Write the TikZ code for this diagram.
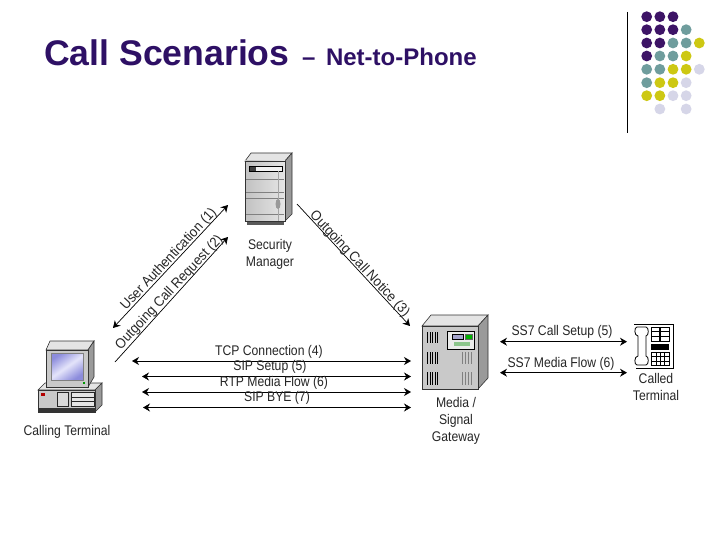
\documentclass[tikz,border=0pt]{standalone}
\usepackage{fontspec}
\setmainfont{Liberation Sans}
\newfontfamily\narfont[FakeStretch=0.87]{Liberation Sans}
\newfontfamily\rotfont[FakeStretch=0.93]{Liberation Sans}
\usetikzlibrary{arrows.meta}
\definecolor{cP}{HTML}{3D1466}
\definecolor{cT}{HTML}{6F9D9D}
\definecolor{cY}{HTML}{CDC813}
\definecolor{cL}{HTML}{D6D6E8}
\definecolor{cTitle}{HTML}{2E1065}
\definecolor{boxtop}{HTML}{E4E4E4}
\definecolor{boxfront}{HTML}{C9C9C9}
\definecolor{boxside}{HTML}{9A9A9A}
\definecolor{scrA}{HTML}{8C8CDC}
\definecolor{scrB}{HTML}{E4E4FA}
\tikzset{
  lbl/.style={font=\narfont\fontsize{14}{14}\selectfont, text=black!85, inner sep=0pt, align=center},
  rotlbl/.style={font=\rotfont\fontsize{14}{14}\selectfont, text=black!85, inner sep=0pt},
  conn/.style={draw=black, line width=0.7pt},
  both/.style={conn, {Stealth[length=7pt,width=8pt]}-{Stealth[length=7pt,width=8pt]}},
  tipend/.style={conn, -{Stealth[length=7pt,width=8pt]}},
  edge1/.style={draw=black!80, line width=0.6pt},
  dot/.style={circle, minimum size=10.8pt, inner sep=0pt},
  dotP/.style={dot, fill=cP}, dotT/.style={dot, fill=cT}, dotY/.style={dot, fill=cY}, dotL/.style={dot, fill=cL}
}
\begin{document}
\begin{tikzpicture}[x=1pt,y=-1pt]
\useasboundingbox[fill=white] (0,0) rectangle (720,540);
% decor
\draw[black, line width=1pt] (627.5,12) -- (627.5,133);
\foreach \r/\y/\lst in {1/16.7/{1/P,2/P,3/P},2/29.7/{1/P,2/P,3/P,4/T},3/43/{1/P,2/P,3/T,4/T,5/Y},4/56/{1/P,2/T,3/T,4/Y},5/69.3/{1/T,2/T,3/Y,4/Y,5/L},6/82.7/{1/T,2/Y,3/Y,4/L},7/95.7/{1/Y,2/Y,3/L,4/L},8/109/{2/L,4/L}}{
  \foreach \c/\k in \lst { \node[dot\k] (d\r\c) at ({646.7+(\c-1)*13.15},\y) {}; }
}
% title
\node[anchor=base west, inner sep=0pt, text=cTitle, font=\bfseries\fontsize{35.6}{36}\selectfont] (title) at (44,65.5) {Call Scenarios};
\node[anchor=base west, inner sep=0pt, text=cTitle, font=\bfseries\fontsize{24}{24}\selectfont] (subtitle) at (302,66) {–\hspace{10.5pt}Net-to-Phone};
% security manager server
\fill[black!65] (247,221) rectangle (284,225);
\draw[edge1, fill=boxtop] (245,161) -- (251,153) -- (292,153) -- (285,161) -- cycle;
\draw[edge1, fill=boxside] (285,161) -- (292,153) -- (292,214) -- (285,221) -- cycle;
\draw[edge1, left color=black!24, right color=black!10] (245,161) rectangle (285,221);
\fill[black!5] (249,166) rectangle (282,171);
\fill[black!75] (249,166) rectangle (256,171);
\draw[black, line width=.5pt] (249,166) rectangle (282,171);
\foreach \y in {179,192,198,214} \draw[black!50, line width=.6pt] (246,\y) -- (284,\y);
\draw[black!35, line width=.6pt] (278,171) -- (278,221);
\fill[black!40] (278,204) ellipse (2.5pt and 5pt);
\node[lbl] (smlabel) at (270,254.5) {Security\\[3pt]Manager};
% calling terminal
\draw[edge1, fill=boxtop] (45,383) -- (38,390) -- (95,390) -- (102,383) -- cycle;
\draw[edge1, fill=boxside] (95,390) -- (102,383) -- (102,405) -- (95,412) -- cycle;
\draw[edge1, fill=boxfront] (38,390) rectangle (95,412);
\fill[black!80] (38,408) rectangle (95,412);
\fill[red!70!black] (41,393) rectangle (45,396);
\draw[black!85, line width=.5pt, fill=black!15] (57,392) rectangle (68,406);
\draw[black!85, line width=.5pt, fill=black!10] (71,392) rectangle (94,406);
\draw[black!85, line width=.5pt] (71,397) -- (94,397) (71,401) -- (94,401);
\draw[edge1, fill=boxtop] (46,350) -- (50,341) -- (94,341) -- (88,350) -- cycle;
\draw[edge1, fill=boxside] (88,350) -- (94,341) -- (94,377) -- (88,387) -- cycle;
\draw[edge1, fill=boxfront] (46,350) rectangle (88,387);
\shade[left color=scrA, right color=scrA, middle color=scrB, shading angle=35] (51,353) rectangle (83,380);
\draw[black!50, line width=.5pt] (51,353) rectangle (83,380);
\fill[green!60!black] (82.5,381.5) rectangle (85,384);
\node[lbl] (ctlabel) at (67,432) {Calling Terminal};
% gateway
\draw[edge1, fill=boxtop] (422,326) -- (431,315) -- (488,315) -- (478,326) -- cycle;
\draw[edge1, fill=boxside] (478,326) -- (488,315) -- (488,378) -- (478,389) -- cycle;
\draw[edge1, fill=boxfront] (422,326) rectangle (478,389);
\foreach \yy/\yb in {332/343,352/364,372/385}
  \foreach \xx in {427.5,430,432.5,435,437.5} \draw[black, line width=.9pt] (\xx,\yy) -- (\xx,\yb);
\foreach \yy/\yb in {352/364,372/385}
  \foreach \xx in {462,465,468,471} \draw[black!50, line width=.8pt] (\xx,\yy) -- (\xx,\yb);
\draw[black, line width=1pt, fill=green!6!black!8] (447,331) rectangle (474,349);
\draw[black, line width=.4pt, fill=blue!45!black!35!white] (452,334) rectangle (463,339);
\draw[black!60, line width=.4pt, fill=green!70!black] (465,334) rectangle (472,339);
\fill[green!50!black!45] (454,342) rectangle (470,346);
\node[lbl] (gwlabel) at (456,421) {Media /\\[3pt]Signal\\[3pt]Gateway};
% phone
\draw[black, line width=.9pt] (634,324) -- (673,324) -- (673,368) -- (636,368);
\draw[black, line width=.8pt, fill=white] (637,327) -- (646,327) .. controls (649,327) and (649,336) .. (646,336) -- (646,356) .. controls (649,356) and (649,365) .. (646,365) -- (637,365) .. controls (634,365) and (634,356) .. (638,356) -- (638,336) .. controls (634,336) and (634,327) .. (637,327) -- cycle;
\draw[black, line width=.7pt] (651,327) rectangle (659,341) (660.5,327) rectangle (669,341) (651,331.7) -- (659,331.7) (651,336.3) -- (659,336.3) (660.5,331.7) -- (669,331.7) (660.5,336.3) -- (669,336.3);
\fill[black] (651,344) rectangle (669,350);
\draw[black, line width=.7pt] (651,352) rectangle (669,365);
\draw[black, line width=.7pt] (651,356.5) -- (669,356.5) (651,361) -- (669,361) (656,352) -- (656,365) (660,352) -- (660,365) (664.5,352) -- (664.5,365);
\node[lbl] (cdlabel) at (656,386.5) {Called\\[3pt]Terminal};
% endpoints
\coordinate (ua1) at (113,328); \coordinate (ua2) at (228,205);
\coordinate (rq1) at (115,362); \coordinate (rq2) at (228,237);
\coordinate (no1) at (297,204); \coordinate (no2) at (410,326);
\coordinate (tc1) at (132,361); \coordinate (tc2) at (411,361);
\coordinate (su1) at (142,376.5); \coordinate (su2) at (411,376.5);
\coordinate (rt1) at (142,392); \coordinate (rt2) at (411,392);
\coordinate (by1) at (143,407.5); \coordinate (by2) at (411,407.5);
\coordinate (s1a) at (500,341.7); \coordinate (s1b) at (627,341.7);
\coordinate (s2a) at (500,372.7); \coordinate (s2b) at (627,372.7);
\draw[both] (ua1) -- (ua2);
\draw[tipend] (rq1) -- (rq2);
\draw[tipend] (no1) -- (no2);
\draw[both] (tc1) -- (tc2);
\draw[both] (su1) -- (su2);
\draw[both] (rt1) -- (rt2);
\draw[both] (by1) -- (by2);
\draw[both] (s1a) -- (s1b);
\draw[both] (s2a) -- (s2b);
% connector labels
\node[rotlbl, rotate=47] (l1) at (169,259.5) {User Authentication (1)};
\node[rotlbl, rotate=47] (l2) at (169.5,292.5) {Outgoing Call Request (2)};
\node[rotlbl, rotate=-47] (l3) at (359.5,264) {Outgoing Call Notice (3)};
\node[lbl] (l4) at (269,351.5) {TCP Connection (4)};
\node[lbl] (l5) at (270,367) {SIP Setup (5)};
\node[lbl] (l6) at (274,382.5) {RTP Media Flow (6)};
\node[lbl] (l7) at (277,398) {SIP BYE (7)};
\node[lbl] (l8) at (562,332) {SS7 Call Setup (5)};
\node[lbl] (l9) at (561,364) {SS7 Media Flow (6)};
\end{tikzpicture}
\end{document}
